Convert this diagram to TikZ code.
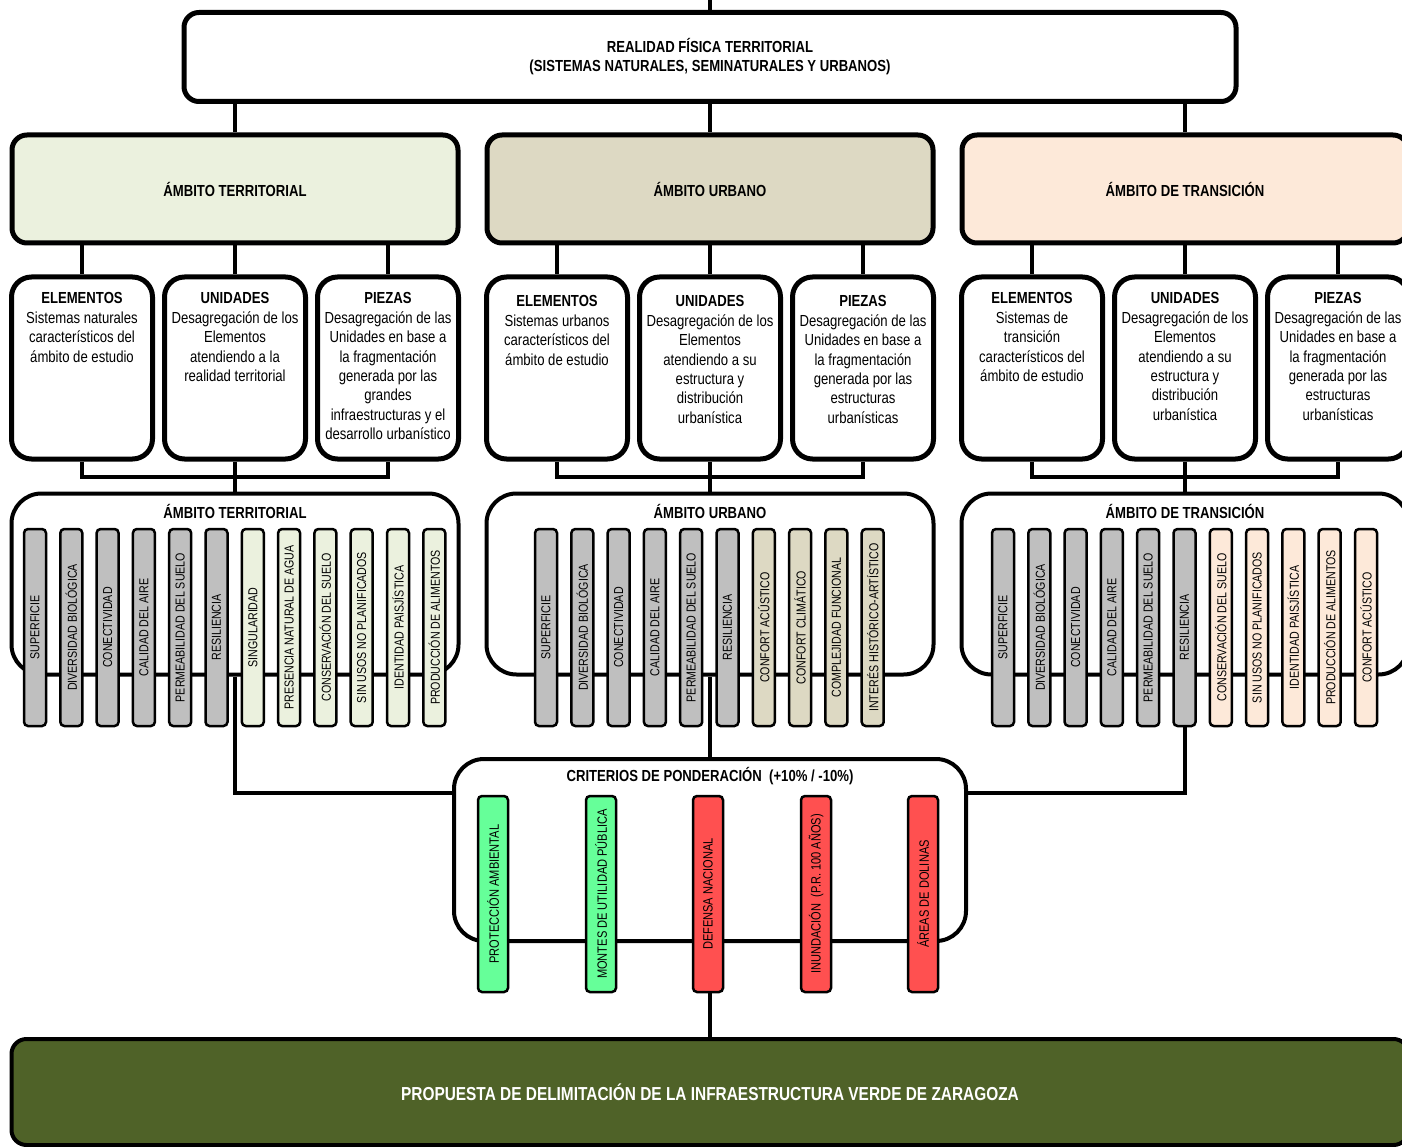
\documentclass[tikz,border=0pt]{standalone}
\usepackage{fontspec}
\setmainfont{Liberation Sans}[FakeStretch=0.82]
\usepackage{tikz}
\usetikzlibrary{positioning,calc,backgrounds}
\definecolor{terrcol}{HTML}{EBF1DE}
\definecolor{urbcol}{HTML}{DDD9C3}
\definecolor{trancol}{HTML}{FDE9D9}
\definecolor{barcol}{HTML}{BFBFBF}
\definecolor{poscol}{HTML}{66FF99}
\definecolor{negcol}{HTML}{FF5050}
\definecolor{fincol}{HTML}{4F6228}

\begin{document}
\begin{tikzpicture}[x=1pt, y=-1pt,
    conn/.style={line width=4pt},
    topbox/.style={draw, line width=5pt, rounded corners=15pt, fill=white, minimum width=1052pt, minimum height=89pt, align=center, font=\fontsize{16}{19}\selectfont\bfseries},
    ambbox/.style={draw, line width=5pt, rounded corners=15pt, minimum width=446pt, minimum height=108pt, font=\fontsize{16}{19}\selectfont\bfseries},
    subbox/.style={draw, line width=5pt, rounded corners=20pt, fill=white, minimum width=141pt, minimum height=182pt},
    subtext/.style={anchor=north, inner sep=0pt, align=center, font=\fontsize{16}{19.4}\selectfont},
    grpbox/.style={draw, line width=4pt, rounded corners=30pt, fill=white, minimum width=447pt, minimum height=181pt},
    grptitle/.style={inner sep=0pt, font=\fontsize{16}{19}\selectfont\bfseries},
    itembar/.style={draw, line width=2.5pt, rounded corners=4pt, rotate=90, minimum width=197pt, minimum height=22pt, inner sep=0pt, font=\fontsize{13}{15}\selectfont},
    critbar/.style={itembar, minimum width=196pt, minimum height=30pt, font=\fontsize{13.5}{15}\selectfont},
    finbox/.style={draw, line width=4pt, rounded corners=15pt, fill=fincol, text=white, minimum width=1397pt, minimum height=106pt, font=\fontsize{18.8}{22}\selectfont\bfseries}
]
    \useasboundingbox (0,0) rectangle (1402,1147);
    \clip (0,0) rectangle (1402,1147);

    \coordinate (src) at (710,-5);
    \node[topbox] (top) at (710,57) {REALIDAD FÍSICA TERRITORIAL\\(SISTEMAS NATURALES, SEMINATURALES Y URBANOS)};

    \node[ambbox, fill=terrcol] (ta) at (235,189) {ÁMBITO TERRITORIAL};
    \node[ambbox, fill=urbcol] (ua) at (710,189) {ÁMBITO URBANO};
    \node[ambbox, fill=trancol] (ra) at (1185,189) {ÁMBITO DE TRANSICIÓN};

    % territorial
    \node[subbox] (te) at (82,368) {};
    \node[subbox] (tu) at (235,368) {};
    \node[subbox] (tp) at (388,368) {};
    \node[subtext] at ([yshift=-18pt]te.north) {\textbf{ELEMENTOS}\\Sistemas naturales\\característicos del\\ámbito de estudio};
    \node[subtext] at ([yshift=-18pt]tu.north) {\textbf{UNIDADES}\\Desagregación de los\\Elementos\\atendiendo a la\\realidad territorial};
    \node[subtext] at ([yshift=-18pt]tp.north) {\textbf{PIEZAS}\\Desagregación de las\\Unidades en base a\\la fragmentación\\generada por las\\grandes\\infraestructuras y el\\desarrollo urbanístico};

    % urbano
    \node[subbox] (ue) at (557,368) {};
    \node[subbox] (uu) at (710,368) {};
    \node[subbox] (up) at (863,368) {};
    \node[subtext] at ([yshift=-21pt]ue.north) {\textbf{ELEMENTOS}\\Sistemas urbanos\\característicos del\\ámbito de estudio};
    \node[subtext] at ([yshift=-21pt]uu.north) {\textbf{UNIDADES}\\Desagregación de los\\Elementos\\atendiendo a su\\estructura y\\distribución\\urbanística};
    \node[subtext] at ([yshift=-21pt]up.north) {\textbf{PIEZAS}\\Desagregación de las\\Unidades en base a\\la fragmentación\\generada por las\\estructuras\\urbanísticas};

    % transicion
    \node[subbox] (re) at (1032,368) {};
    \node[subbox] (ru) at (1185,368) {};
    \node[subbox] (rp) at (1338,368) {};
    \node[subtext] at ([yshift=-18pt]re.north) {\textbf{ELEMENTOS}\\Sistemas de\\transición\\característicos del\\ámbito de estudio};
    \node[subtext] at ([yshift=-18pt]ru.north) {\textbf{UNIDADES}\\Desagregación de los\\Elementos\\atendiendo a su\\estructura y\\distribución\\urbanística};
    \node[subtext] at ([yshift=-18pt]rp.north) {\textbf{PIEZAS}\\Desagregación de las\\Unidades en base a\\la fragmentación\\generada por las\\estructuras\\urbanísticas};

    % indicadores
    \node[grpbox] (tg) at (235,584) {};
    \node[grpbox] (ug) at (710,584) {};
    \node[grpbox] (rg) at (1185,584) {};
    \node[grptitle] at ([yshift=-20pt]tg.north) {ÁMBITO TERRITORIAL};
    \node[grptitle] at ([yshift=-20pt]ug.north) {ÁMBITO URBANO};
    \node[grptitle] at ([yshift=-20pt]rg.north) {ÁMBITO DE TRANSICIÓN};

    \foreach \lab [count=\i] in {SUPERFICIE, DIVERSIDAD BIOLÓGICA, CONECTIVIDAD, CALIDAD DEL AIRE, PERMEABILIDAD DEL SUELO, RESILIENCIA, SINGULARIDAD, PRESENCIA NATURAL DE AGUA, CONSERVACIÓN DEL SUELO, SIN USOS NO PLANIFICADOS, IDENTIDAD PAISJÍSTICA, PRODUCCIÓN DE ALIMENTOS}{
        \ifnum\i<7 \def\bc{barcol}\else\def\bc{terrcol}\fi
        \node[itembar, fill=\bc] (tb\i) at ({35+(\i-1)*36.3},627.5) {\lab};
    }
    \foreach \lab [count=\i] in {SUPERFICIE, DIVERSIDAD BIOLÓGICA, CONECTIVIDAD, CALIDAD DEL AIRE, PERMEABILIDAD DEL SUELO, RESILIENCIA, CONFORT ACÚSTICO, CONFORT CLIMÁTICO, COMPLEJIDAD FUNCIONAL, INTERÉS HISTÓRICO-ARTÍSTICO}{
        \ifnum\i<7 \def\bc{barcol}\else\def\bc{urbcol}\fi
        \node[itembar, fill=\bc] (ub\i) at ({546+(\i-1)*36.3},627.5) {\lab};
    }
    \foreach \lab [count=\i] in {SUPERFICIE, DIVERSIDAD BIOLÓGICA, CONECTIVIDAD, CALIDAD DEL AIRE, PERMEABILIDAD DEL SUELO, RESILIENCIA, CONSERVACIÓN DEL SUELO, SIN USOS NO PLANIFICADOS, IDENTIDAD PAISJÍSTICA, PRODUCCIÓN DE ALIMENTOS, CONFORT ACÚSTICO}{
        \ifnum\i<7 \def\bc{barcol}\else\def\bc{trancol}\fi
        \node[itembar, fill=\bc] (rb\i) at ({1003+(\i-1)*36.3},627.5) {\lab};
    }

    % ponderacion
    \node[grpbox, minimum width=512pt, minimum height=182pt] (crit) at (710,850) {};
    \node[grptitle] at ([yshift=-19pt]crit.north) {CRITERIOS DE PONDERACIÓN~~(+10\% / -10\%)};
    \node[critbar, fill=poscol] (cb1) at (493,894) {PROTECCIÓN AMBIENTAL};
    \node[critbar, fill=poscol] (cb2) at (601,894) {MONTES DE UTILIDAD PÚBLICA};
    \node[critbar, fill=negcol] (cb3) at (708,894) {DEFENSA NACIONAL};
    \node[critbar, fill=negcol] (cb4) at (816,894) {INUNDACIÓN~~(P.R. 100 AÑOS)};
    \node[critbar, fill=negcol] (cb5) at (923,894) {ÁREAS DE DOLINAS};

    \node[finbox] (fin) at (710,1092) {PROPUESTA DE DELIMITACIÓN DE LA INFRAESTRUCTURA VERDE DE ZARAGOZA};

    \begin{scope}[on background layer]
        \draw[conn] (src) -- (top.north);
        \draw[conn] (top.south -| ta.north) -- (ta.north);
        \draw[conn] (top.south) -- (ua.north);
        \draw[conn] (top.south -| ra.north) -- (ra.north);

        \draw[conn] (ta.south -| te.north) -- (te.north);
        \draw[conn] (ta.south) -- (tu.north);
        \draw[conn] (ta.south -| tp.north) -- (tp.north);
        \draw[conn] (ua.south -| ue.north) -- (ue.north);
        \draw[conn] (ua.south) -- (uu.north);
        \draw[conn] (ua.south -| up.north) -- (up.north);
        \draw[conn] (ra.south -| re.north) -- (re.north);
        \draw[conn] (ra.south) -- (ru.north);
        \draw[conn] (ra.south -| rp.north) -- (rp.north);

        \draw[conn] (te.south) -- ++(0,15) -| (tp.south);
        \draw[conn] (tu.south) -- (tg.north);
        \draw[conn] (ue.south) -- ++(0,15) -| (up.south);
        \draw[conn] (uu.south) -- (ug.north);
        \draw[conn] (re.south) -- ++(0,15) -| (rp.south);
        \draw[conn] (ru.south) -- (rg.north);

        \draw[conn] (tg.south) |- ([yshift=57pt]crit.west);
        \draw[conn] (ug.south) -- (crit.north);
        \draw[conn] (rg.south) |- ([yshift=57pt]crit.east);
        \draw[conn] (crit.south) -- (fin.north);
    \end{scope}
\end{tikzpicture}
\end{document}
